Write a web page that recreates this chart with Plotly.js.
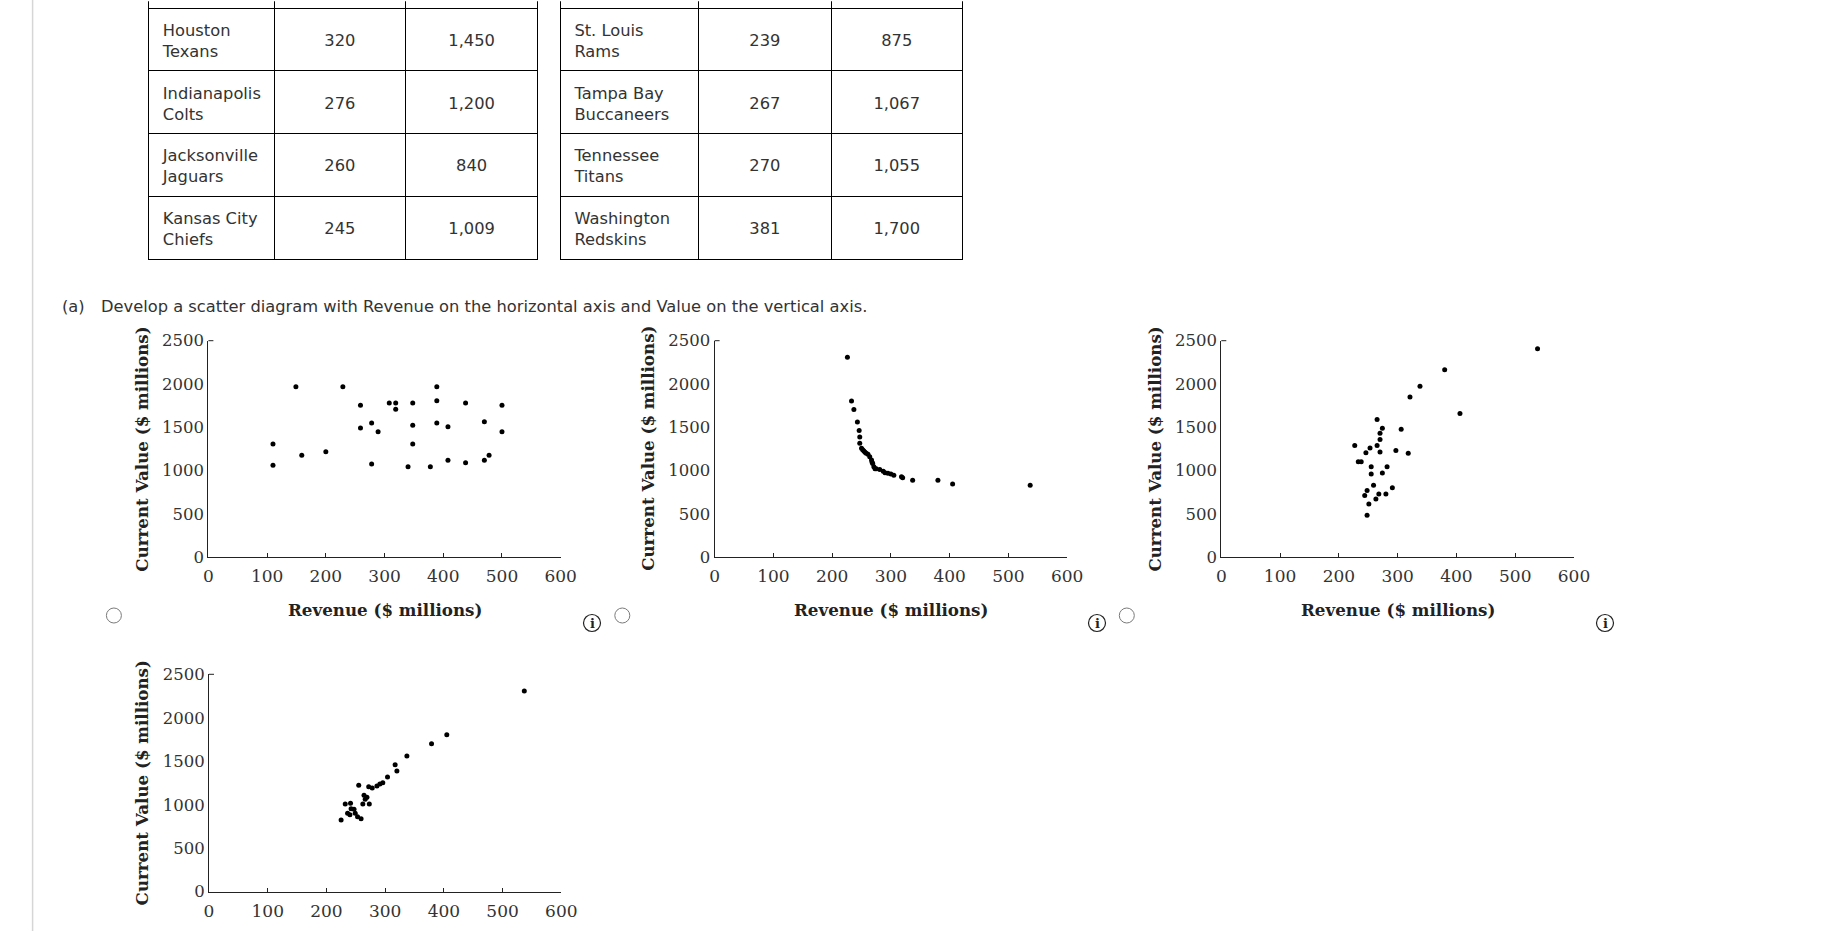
<!DOCTYPE html>
<html>
<head>
<meta charset="utf-8">
<script src="https://cdn.plot.ly/plotly-3.0.1.min.js"></script>
<style>html,body{margin:0;padding:0;background:#fff;overflow:hidden}</style>
</head>
<body>
<div id="chart" style="width:1823px;height:931px"></div>
<script>
// ---------------- data ----------------
const leftTeams = ["Houston<br>Texans", "Indianapolis<br>Colts", "Jacksonville<br>Jaguars", "Kansas City<br>Chiefs"];
const leftRevenue = ["320", "276", "260", "245"];
const leftValue = ["1,450", "1,200", "840", "1,009"];
const rightTeams = ["St. Louis<br>Rams", "Tampa Bay<br>Buccaneers", "Tennessee<br>Titans", "Washington<br>Redskins"];
const rightRevenue = ["239", "267", "270", "381"];
const rightValue = ["875", "1,067", "1,055", "1,700"];

const questionLabel = "(a)";
const questionText = "Develop a scatter diagram with Revenue on the horizontal axis and Value on the vertical axis.";

const xTickVals = [0, 100, 200, 300, 400, 500, 600];
const yTickVals = [0, 500, 1000, 1500, 2000, 2500];
const xTitle = "Revenue ($ millions)";
const yTitle = "Current Value ($ millions)";

const optionARevenue = [149, 229, 389, 259, 308, 319, 319, 348, 389, 438, 500, 259, 278, 289, 348, 389, 408, 470, 500, 110, 110, 159, 200, 348, 278, 340, 378, 408, 438, 470, 478];
const optionAValue   = [1968, 1968, 1968, 1753, 1780, 1780, 1707, 1780, 1807, 1780, 1753, 1491, 1549, 1448, 1522, 1549, 1506, 1564, 1448, 1306, 1060, 1175, 1217, 1306, 1075, 1044, 1044, 1117, 1090, 1117, 1175];

const optionBRevenue = [226, 233, 237, 243, 246, 247, 247, 250, 252, 254, 256, 258, 261, 264, 267, 268, 269, 271, 273, 275, 281, 287, 290, 295, 300, 305, 318, 320, 337, 380, 405, 537];
const optionBValue   = [2310, 1803, 1704, 1561, 1462, 1388, 1315, 1258, 1240, 1225, 1212, 1200, 1189, 1158, 1120, 1095, 1082, 1043, 1020, 1020, 1010, 990, 974, 967, 959, 945, 928, 916, 886, 886, 843, 828];

const optionCRevenue = [538, 380, 338, 321, 406, 265, 274, 306, 270, 270, 227, 253, 265, 246, 270, 297, 318, 233, 238, 255, 282, 255, 274, 259, 291, 248, 244, 268, 280, 263, 251, 248];
const optionCValue   = [2408, 2163, 1974, 1848, 1660, 1588, 1488, 1476, 1430, 1357, 1289, 1261, 1289, 1204, 1215, 1231, 1200, 1100, 1100, 1042, 1042, 958, 970, 828, 801, 770, 712, 728, 728, 671, 613, 483];

const optionDRevenue = [537, 405, 379, 337, 317, 320, 304, 296, 291, 286, 278, 272, 255, 264, 269, 266, 262, 273, 232, 241, 242, 247, 236, 240, 249, 253, 259, 225];
const optionDValue   = [2308, 1806, 1702, 1561, 1461, 1388, 1319, 1254, 1239, 1216, 1193, 1208, 1224, 1109, 1086, 1063, 1009, 1009, 1009, 1017, 955, 948, 902, 886, 902, 863, 840, 825];

// ---------------- layout helpers ----------------
const W = 1823, H = 931;
const px = x => x / W;
const py = y => 1 - y / H;

const TEXT = '#333333';
const SANS = 'DejaVu Sans, Verdana, sans-serif';
const SERIF = 'DejaVu Serif, serif';
const TXT_SIZE = 16.3;

// table geometry (pixels)
const headerH = 8;
const rowH = 62.8;
const tableTop = 0;
const tableBottom = tableTop + headerH + 4 * rowH;
const nameDx = 6, nameDy = 4.7, numDy = 17.5;

function tableTraces(x0, colW, names, revs, vals) {
  const totalW = colW.reduce((a, b) => a + b, 0);
  const blank = names.map(() => '');
  const dom = {x: [px(x0), px(x0 + totalW)], y: [py(tableBottom + 4), py(tableTop)]};
  const border = {
    type: 'table', domain: dom, columnwidth: colW,
    header: {values: ['', '', ''], height: headerH, line: {color: '#000', width: 1}, fill: {color: '#fff'}},
    cells: {values: [blank, blank, blank], height: rowH, line: {color: '#000', width: 1}, fill: {color: '#fff'}}
  };
  const names_t = {
    type: 'table', domain: {x: [px(x0 + nameDx), px(x0 + totalW + nameDx)], y: [py(tableBottom + 80), py(tableTop)]},
    columnwidth: colW,
    header: {values: ['', '', ''], height: headerH + nameDy, line: {color: 'rgba(0,0,0,0)', width: 0}, fill: {color: 'rgba(0,0,0,0)'}},
    cells: {values: [names, blank, blank], height: rowH, align: 'left',
      font: {family: SANS, size: TXT_SIZE, color: TEXT},
      line: {color: 'rgba(0,0,0,0)', width: 0}, fill: {color: 'rgba(0,0,0,0)'}}
  };
  const nums_t = {
    type: 'table', domain: {x: [px(x0), px(x0 + totalW)], y: [py(tableBottom + 80), py(tableTop)]},
    columnwidth: colW,
    header: {values: ['', '', ''], height: headerH + numDy, line: {color: 'rgba(0,0,0,0)', width: 0}, fill: {color: 'rgba(0,0,0,0)'}},
    cells: {values: [blank, revs, vals], height: rowH, align: 'center',
      font: {family: SANS, size: TXT_SIZE, color: TEXT},
      line: {color: 'rgba(0,0,0,0)', width: 0}, fill: {color: 'rgba(0,0,0,0)'}}
  };
  return [border, names_t, nums_t];
}

const tableLeftX = 148.8, tableRightX = 560.4;
const leftColW = [125.6, 131.3, 132.6], rightColW = [138.3, 132.6, 131.3];
const traces = [];
traces.push(...tableTraces(tableLeftX, leftColW, leftTeams, leftRevenue, leftValue));
traces.push(...tableTraces(tableRightX, rightColW, rightTeams, rightRevenue, rightValue));

// scatter panels: [x0, x1, yTop, yBottom] in pixels
const panels = [
  {xa: 'x',  ya: 'y',  box: [208.4, 560.7, 340.7, 557.0], rev: optionARevenue, val: optionAValue},
  {xa: 'x2', ya: 'y2', box: [714.6, 1067.2, 340.7, 557.0], rev: optionBRevenue, val: optionBValue},
  {xa: 'x3', ya: 'y3', box: [1221.3, 1574.0, 340.7, 557.0], rev: optionCRevenue, val: optionCValue},
  {xa: 'x4', ya: 'y4', box: [209.0, 561.3, 674.3, 891.7], rev: optionDRevenue, val: optionDValue}
];

const layout = {
  width: W, height: H,
  margin: {l: 0, r: 0, t: 0, b: 0},
  paper_bgcolor: '#fff', plot_bgcolor: 'rgba(0,0,0,0)',
  showlegend: false,
  shapes: [], annotations: []
};

panels.forEach((p, i) => {
  traces.push({
    type: 'scatter', mode: 'markers', x: p.rev, y: p.val,
    xaxis: p.xa, yaxis: p.ya,
    marker: {size: 5, color: '#000'}, hoverinfo: 'x+y', cliponaxis: false
  });
  const n = i === 0 ? '' : String(i + 1);
  layout['xaxis' + n] = {
    domain: [px(p.box[0]), px(p.box[1])], anchor: p.ya, range: [0, 600],
    tickmode: 'array', tickvals: xTickVals, ticks: 'inside', ticklen: 4, tickcolor: '#222', tickwidth: 1,
    ticklabelstandoff: 4,
    showline: true, linecolor: '#222', linewidth: 1, showgrid: false, zeroline: false,
    tickfont: {family: SERIF, size: 17, color: TEXT}, fixedrange: true
  };
  layout['yaxis' + n] = {
    domain: [py(p.box[3]), py(p.box[2])], anchor: p.xa, range: [0, 2500],
    tickmode: 'array', tickvals: yTickVals, ticks: '',
    showline: true, linecolor: '#222', linewidth: 1, showgrid: false, zeroline: false,
    tickfont: {family: SERIF, size: 16.5, color: TEXT}, fixedrange: true
  };
  // small stub at top of the value axis
  layout.shapes.push({type: 'line', xref: p.xa + ' domain', yref: p.ya + ' domain',
    x0: 0, x1: 5 / (p.box[1] - p.box[0]), y0: 1, y1: 1, line: {color: '#222', width: 1}});
  // axis titles
  layout.annotations.push({xref: p.xa + ' domain', yref: p.ya + ' domain', x: 0.5, y: 0, yshift: -53,
    xanchor: 'center', yanchor: 'middle', showarrow: false, text: xTitle,
    font: {family: SERIF, size: 16.7, color: '#222', weight: 'bold'}});
  layout.annotations.push({xref: p.xa + ' domain', yref: p.ya + ' domain', x: 0, y: 0.5, xshift: -66.6,
    xanchor: 'center', yanchor: 'middle', textangle: -90, showarrow: false, text: yTitle,
    font: {family: SERIF, size: 16.7, color: '#222', weight: 'bold'}});
});

// question text
layout.annotations.push({xref: 'paper', yref: 'paper', x: px(59.5), y: py(306), xanchor: 'left', yanchor: 'middle',
  showarrow: false, text: questionLabel, font: {family: SANS, size: TXT_SIZE, color: TEXT}});
layout.annotations.push({xref: 'paper', yref: 'paper', x: px(99), y: py(306), xanchor: 'left', yanchor: 'middle',
  showarrow: false, text: questionText, font: {family: SANS, size: TXT_SIZE, color: TEXT}});

// left page rule
layout.shapes.push({type: 'line', xref: 'paper', yref: 'paper', x0: px(32.6), x1: px(32.6), y0: 0, y1: 1,
  line: {color: '#d6d6d6', width: 1.5}});

// the table continues above the visible page: mask the header's top edge
layout.shapes.push({type: 'line', xref: 'paper', yref: 'paper', layer: 'above',
  x0: px(tableLeftX - 2), x1: px(tableRightX + rightColW.reduce((a, b) => a + b, 0) + 2), y0: 1, y1: 1,
  line: {color: '#fff', width: 2.5}});

// radio buttons and info icons
const radios = [[113.9, 615.5], [622.3, 615.5], [1126.8, 615.5]];
radios.forEach(([cx, cy]) => {
  layout.shapes.push({type: 'circle', xref: 'paper', yref: 'paper',
    x0: px(cx - 7.5), x1: px(cx + 7.5), y0: py(cy + 7.5), y1: py(cy - 7.5),
    line: {color: '#7a7a7a', width: 1}, fillcolor: '#fff'});
});
const infos = [[592.0, 623.0], [1097.0, 623.0], [1605.0, 623.0]];
infos.forEach(([cx, cy]) => {
  layout.shapes.push({type: 'circle', xref: 'paper', yref: 'paper',
    x0: px(cx - 8.5), x1: px(cx + 8.5), y0: py(cy + 8.5), y1: py(cy - 8.5),
    line: {color: '#222', width: 1.2}, fillcolor: 'rgba(0,0,0,0)'});
  layout.annotations.push({xref: 'paper', yref: 'paper', x: px(cx), y: py(cy), xanchor: 'center', yanchor: 'middle',
    showarrow: false, text: 'i', font: {family: SERIF, size: 13, color: '#222', weight: 'bold'}});
});

Plotly.newPlot('chart', traces, layout, {displayModeBar: false, responsive: false});
</script>
</body>
</html>
